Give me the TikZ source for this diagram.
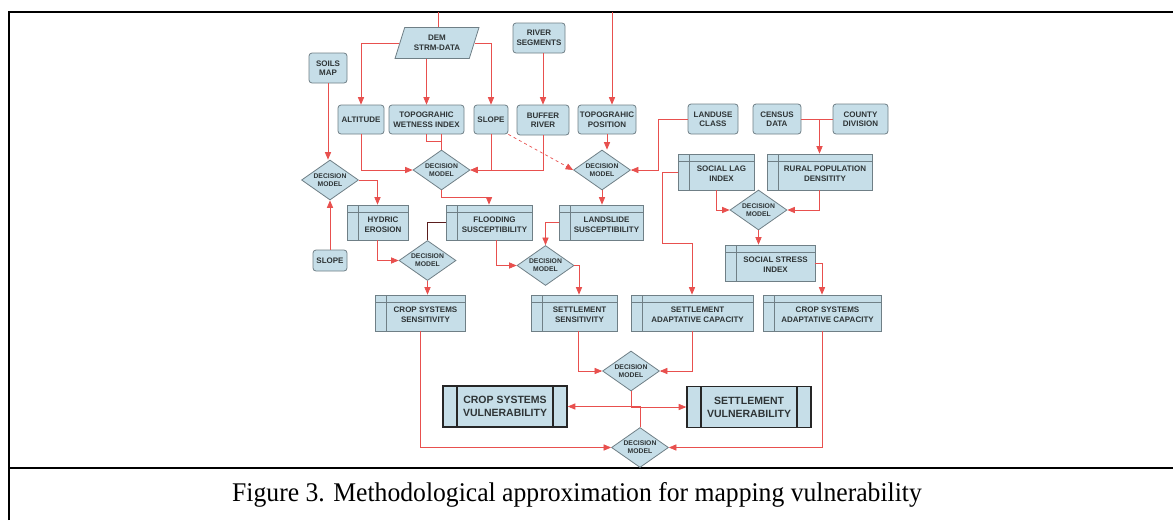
\documentclass[tikz,border=0pt]{standalone}
\usepackage{fontspec}
\setmainfont{Liberation Serif}
\setsansfont{Liberation Sans}
\usepackage{tikz}
\usetikzlibrary{arrows,shapes.geometric}

\definecolor{boxfill}{HTML}{C6DEE8}
\definecolor{boxline}{HTML}{6F7F86}
\definecolor{linkred}{HTML}{E8504E}
\definecolor{linkdark}{HTML}{5A1E1E}
\definecolor{textgray}{HTML}{2E3436}

% text of a layer box, set right of its side bar and below its top bar
\newcommand{\layertext}[1]{\begin{tabular}{@{\hspace{11pt}}c@{}}\rule{0pt}{12pt}#1\end{tabular}}

\tikzset{
  inbox/.style={draw=boxline, fill=boxfill, rounded corners=3pt, line width=0.8pt,
    align=center, inner sep=1pt, text=textgray,
    font=\sffamily\bfseries\fontsize{8}{9.5}\selectfont},
  procbox/.style={draw=boxline, fill=boxfill, line width=0.8pt, align=center,
    inner sep=0pt, minimum height=36pt, text=textgray,
    font=\sffamily\bfseries\fontsize{8}{10}\selectfont,
    path picture={
      \draw[boxline, line width=0.8pt] ([xshift=11pt]path picture bounding box.north west)
        -- ([xshift=11pt]path picture bounding box.south west);
      \draw[boxline, line width=0.8pt] ([yshift=-7pt]path picture bounding box.north west)
        -- ([yshift=-7pt]path picture bounding box.north east);}},
  bigbox/.style={draw=black!85, fill=boxfill, line width=1.6pt, align=center,
    minimum width=124pt, minimum height=41pt, text=textgray,
    font=\sffamily\bfseries\fontsize{10.5}{13}\selectfont,
    path picture={
      \draw[black!85, line width=1.4pt] ([xshift=14pt]path picture bounding box.north west)
        -- ([xshift=14pt]path picture bounding box.south west);
      \draw[black!85, line width=1.4pt] ([xshift=-14pt]path picture bounding box.north east)
        -- ([xshift=-14pt]path picture bounding box.south east);}},
  decide/.style={diamond, draw=boxline, fill=boxfill, line width=0.8pt, aspect=1.4,
    inner sep=0pt, minimum width=57pt, minimum height=40pt, align=center, text=textgray,
    font=\sffamily\bfseries\fontsize{6.8}{8}\selectfont},
  link/.style={draw=linkred, line width=0.7pt},
  arr/.style={link, -triangle 45}
}

\begin{document}
\begin{tikzpicture}[x=1pt,y=-1pt]
	\useasboundingbox (0,0) rectangle (1173,520);
	% frame and caption
	\draw[line width=2pt] (9,520) -- (9,12) -- (1173,12);
	\draw[line width=2pt] (9,467.5) -- (1173,467.5);
	\node (caption) at (577,495) {\fontsize{27}{31}\selectfont\scalebox{0.95}[1]{Figure 3. Methodological approximation for mapping vulnerability}};

	% inputs
	\node[trapezium, trapezium left angle=67, trapezium right angle=113, trapezium stretches=true,
	  draw=boxline, fill=boxfill, line width=0.8pt, minimum width=84pt, minimum height=31pt,
	  align=center, inner sep=1pt, text=textgray, font=\sffamily\bfseries\fontsize{8}{9.5}\selectfont]
	  (dem) at (437,43) {DEM\\STRM-DATA};
	\node[inbox, minimum width=38pt, minimum height=30pt] (soils) at (328,68) {SOILS\\MAP};
	\node[inbox, minimum width=52pt, minimum height=30pt] (river) at (539,38) {RIVER\\SEGMENTS};
	\node[inbox, minimum width=46pt, minimum height=29pt] (alt) at (361,119.5) {ALTITUDE};
	\node[inbox, minimum width=75pt, minimum height=29pt] (twi) at (426.5,119.5) {TOPOGRAHIC\\WETNESS INDEX};
	\node[inbox, minimum width=34pt, minimum height=29pt] (slopeA) at (491,119.5) {SLOPE};
	\node[inbox, minimum width=52pt, minimum height=30pt] (buffer) at (543,120) {BUFFER\\RIVER};
	\node[inbox, minimum width=58pt, minimum height=29pt] (topo) at (607,119.5) {TOPOGRAHIC\\POSITION};
	\node[inbox, minimum width=50pt, minimum height=30pt] (landuse) at (713,119) {LANDUSE\\CLASS};
	\node[inbox, minimum width=48pt, minimum height=30pt] (census) at (777,119) {CENSUS\\DATA};
	\node[inbox, minimum width=55pt, minimum height=30pt] (county) at (860.5,119) {COUNTY\\DIVISION};
	\node[inbox, minimum width=34pt, minimum height=21pt] (slopeB) at (330,260.5) {SLOPE};

	% decision models
	\node[decide] (dmSoil) at (330,180) {DECISION\\MODEL};
	\node[decide] (dmFlood) at (441.5,170) {DECISION\\MODEL};
	\node[decide] (dmSlide) at (602,170) {DECISION\\MODEL};
	\node[decide] (dmSoc) at (758.5,210) {DECISION\\MODEL};
	\node[decide] (dmCrop) at (427.5,260.5) {DECISION\\MODEL};
	\node[decide] (dmSett) at (545.5,265.5) {DECISION\\MODEL};
	\node[decide] (dmVuln) at (631,371) {DECISION\\MODEL};
	\node[decide] (dmFinal) at (640,447.5) {DECISION\\MODEL};

	% intermediate layers
	\node[procbox, minimum width=76pt] (socLag) at (716,172) {\layertext{SOCIAL LAG\\INDEX}};
	\node[procbox, minimum width=105pt] (rural) at (819.5,172) {\layertext{RURAL POPULATION\\DENSITITY}};
	\node[procbox, minimum width=61pt, minimum height=35pt] (hydric) at (377.5,222.5) {\layertext{HYDRIC\\EROSION}};
	\node[procbox, minimum width=86pt, minimum height=35pt] (flood) at (489,222.5) {\layertext{FLOODING\\SUSCEPTIBILITY}};
	\node[procbox, minimum width=84pt, minimum height=35pt] (slide) at (601,222.5) {\layertext{LANDSLIDE\\SUSCEPTIBILITY}};
	\node[procbox, minimum width=90pt] (stress) at (770,263) {\layertext{SOCIAL STRESS\\INDEX}};
	\node[procbox, minimum width=90pt] (cropSens) at (420,313) {\layertext{CROP SYSTEMS\\SENSITIVITY}};
	\node[procbox, minimum width=86pt] (settSens) at (574,313) {\layertext{SETTLEMENT\\SENSITIVITY}};
	\node[procbox, minimum width=122pt] (settAdapt) at (692,313) {\layertext{SETTLEMENT\\ADAPTATIVE CAPACITY}};
	\node[procbox, minimum width=118pt] (cropAdapt) at (822,313) {\layertext{CROP SYSTEMS\\ADAPTATIVE CAPACITY}};

	% outputs
	\node[bigbox] (cropVuln) at (505,406.5) {CROP SYSTEMS\\VULNERABILITY};
	\node[bigbox] (settVuln) at (749,407) {SETTLEMENT\\VULNERABILITY};

	\coordinate (inDem) at (438,12);
	\coordinate (inTopo) at (612,12);

	% connectors
	\draw[link] (inDem) -- (inDem |- dem.north);
	\draw[arr] (inTopo) -- (inTopo |- topo.north);
	\draw[arr] (dem.west) -| (alt.north);
	\draw[arr] (twi.north |- dem.south) -- (twi.north);
	\draw[arr] (dem.east) -| (slopeA.north);
	\draw[arr] (buffer.north |- river.south) -- (buffer.north);
	\draw[arr] (soils.south) -- (soils.south |- dmSoil.north);
	\draw[arr] (slopeB.north) -- (dmSoil.south);
	\draw[arr] (dmSoil.east) -| (hydric.north);
	\draw[arr] (alt.south) |- (dmFlood.west);
	\draw[link] (twi.south) -- ++(0,7) -| (dmFlood.north);
	\draw[link] (twi.south -| dmFlood.north) -- (dmFlood.north);
	\draw[arr] (slopeA.south) |- (dmFlood.east);
	\draw[arr] (buffer.south) |- (dmFlood.east);
	\draw[arr, dashed] (slopeA.south east) -- (dmSlide.west);
	\draw[arr] (topo.south) -- (topo.south |- dmSlide.north);
	\draw[arr] (landuse.west) -- ++(-29,0) |- (dmSlide.east);
	\draw[link] (census.east) -- (county.west);
	\draw[arr] (rural.north |- census.east) -- (rural.north);
	\draw[arr] (socLag.south) |- (dmSoc.west);
	\draw[arr] (rural.south) |- (dmSoc.east);
	\draw[arr] (dmSoc.south) -- (dmSoc.south |- stress.north);
	\draw[arr] (stress.east) -| (cropAdapt.north);
	\draw[arr] (socLag.west) -- ++(-15,0) -- ++(0,71) -| (settAdapt.north);
	\draw[arr] (dmFlood.south) -- ++(0,7) -| (flood.north);
	\draw[arr] (dmSlide.south) -- (dmSlide.south |- slide.north);
	\draw[draw=linkdark, line width=0.8pt] (flood.west) -| (dmCrop.north);
	\draw[arr] (hydric.south) |- (dmCrop.west);
	\draw[arr] (dmCrop.south) -- (dmCrop.south |- cropSens.north);
	\draw[arr] ([xshift=7pt]flood.south) |- (dmSett.west);
	\draw[arr] (slide.west) -| (dmSett.north);
	\draw[arr] (dmSett.east) -| ([xshift=5pt]settSens.north);
	\draw[arr] ([xshift=4pt]settSens.south) |- (dmVuln.west);
	\draw[arr] (settAdapt.south) |- (dmVuln.east);
	\draw[arr] (dmVuln.south) |- (settVuln.west);
	\draw[arr] (dmFinal.north) |- (cropVuln.east);
	\draw[arr] (cropSens.south) |- (dmFinal.west);
	\draw[arr] (cropAdapt.south) |- (dmFinal.east);
\end{tikzpicture}
\end{document}
